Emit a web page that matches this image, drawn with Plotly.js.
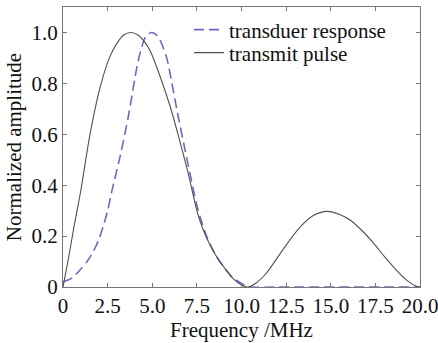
<!DOCTYPE html>
<html><head><meta charset="utf-8">
<script src="https://cdn.plot.ly/plotly-3.0.1.min.js"></script>
<style>html,body{margin:0;padding:0;background:#fff;}#chart{width:438px;height:343px;}</style>
</head><body><div id="chart"></div>
<script>
var pulseX = [0,0.3,0.6,1.0,1.5,2.1,2.6,3.0,3.4,3.8,4.2,4.6,4.9,5.4,6.0,6.5,7.0,7.6,8.1,8.6,9.1,9.5,10.0,10.35,10.8,11.4,12.3,13.3,14.0,14.8,15.5,16.1,16.8,17.4,18.0,18.5,19.2,19.8,20];
var pulseY = [0,0.11,0.23,0.38,0.595,0.79,0.9,0.955,0.99,1.0,0.99,0.96,0.925,0.835,0.71,0.585,0.45,0.275,0.185,0.12,0.07,0.035,0.008,0,0.015,0.055,0.145,0.237,0.28,0.297,0.285,0.262,0.218,0.172,0.12,0.08,0.03,0.003,0];
var respX = [0,0.5,0.95,1.4,1.7,2.0,2.26,2.5,2.73,3.19,3.66,4.13,4.4,4.65,4.95,5.2,5.43,5.81,6.1,6.37,6.93,7.49,7.7,8.1,8.6,9.1,9.5,9.9,10.2,10.5,12,14,16,18,20];
var respY = [0.02,0.035,0.067,0.105,0.14,0.185,0.24,0.3,0.375,0.51,0.67,0.86,0.94,0.985,1.0,0.992,0.97,0.9,0.8,0.7,0.507,0.323,0.27,0.19,0.12,0.07,0.037,0.018,0.006,0,0,0,0,0,0];
var xTickVals = [0,2.5,5,7.5,10,12.5,15,17.5,20];
var xTickText = ["0","2.5","5.0","7.5","10.0","12.5","15.0","17.5","20.0"];
var yTickVals = [0,0.2,0.4,0.6,0.8,1.0];
var yTickText = ["0","0.2","0.4","0.6","0.8","1.0"];
var names = ["transduer response","transmit pulse"];

var font = {family:"'Liberation Serif', 'Times New Roman', serif", size:21, color:"#111"};
var data = [
  {x:respX, y:respY, name:names[0], legend:"legend", mode:"lines", line:{color:"#6a6ac8", width:1.6, dash:"10px,5px", shape:"spline", smoothing:0.8}},
  {x:pulseX, y:pulseY, name:names[1], legend:"legend2", mode:"lines", line:{color:"#505050", width:1.1, shape:"spline", smoothing:0.8}}
];
var axisCommon = {showline:true, mirror:"ticks", linecolor:"#777", linewidth:1, ticks:"inside", ticklen:4, tickcolor:"#777", showgrid:false, zeroline:false, tickfont:font, ticklabeloverflow:"allow", automargin:false};
var legendCommon = {xanchor:"left", yanchor:"top", bgcolor:"rgba(0,0,0,0)", font:font};
var layout = {
  width:438, height:343,
  margin:{l:63, r:18, t:7, b:56},
  paper_bgcolor:"#fff", plot_bgcolor:"#fff",
  font:font,
  showlegend:true,
  legend:Object.assign({}, legendCommon, {x:0.353, y:0.991}),
  legend2:Object.assign({}, legendCommon, {x:0.353, y:0.909}),
  xaxis:Object.assign({}, axisCommon, {range:[0,20], tickvals:xTickVals, ticktext:xTickText, title:{text:"Frequency /MHz", font:font, standoff:0}}),
  yaxis:Object.assign({}, axisCommon, {range:[0,1.1], tickvals:yTickVals, ticktext:yTickText, title:{text:"Normalized amplitude", font:font, standoff:4}})
};
Plotly.newPlot("chart", data, layout, {staticPlot:true});
</script></body></html>
